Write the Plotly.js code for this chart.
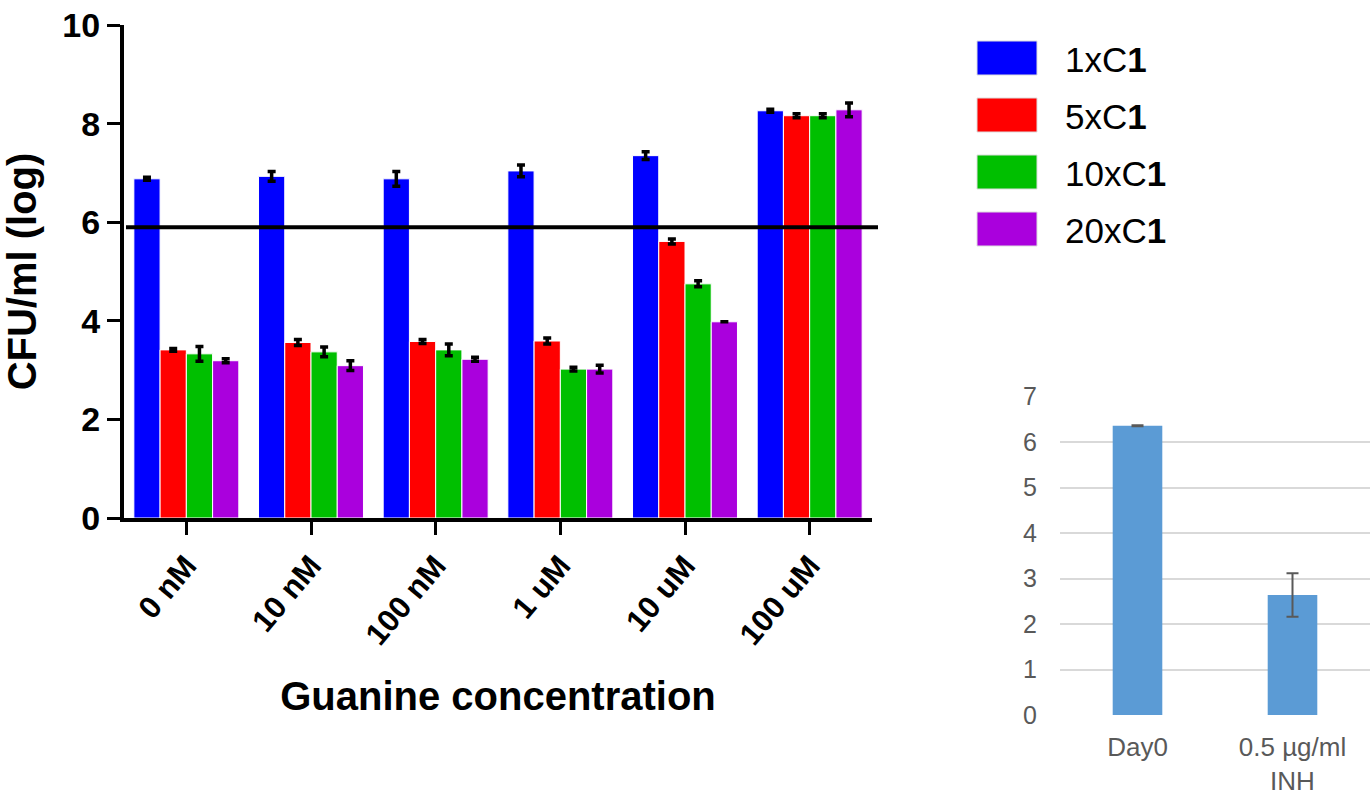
<!DOCTYPE html>
<html>
<head>
<meta charset="utf-8">
<script src="https://cdn.plot.ly/plotly-3.0.1.min.js"></script>
<style>
html,body{margin:0;padding:0;background:#fff;}
#chart{width:1372px;height:795px;}
</style>
</head>
<body>
<div id="chart"></div>
<script>
// ---- Data: main chart ----
const categories = ['0 nM', '10 nM', '100 nM', '1 uM', '10 uM', '100 uM'];
const seriesNames = ['1xC<b>1</b>', '5xC<b>1</b>', '10xC<b>1</b>', '20xC<b>1</b>'];
const c1x1 = [6.88, 6.93, 6.88, 7.04, 7.35, 8.26];
const c1x1Err = [0.03, 0.10, 0.15, 0.12, 0.08, 0.03];
const c1x5 = [3.41, 3.56, 3.58, 3.59, 5.61, 8.16];
const c1x5Err = [0.03, 0.06, 0.04, 0.06, 0.05, 0.04];
const c1x10 = [3.33, 3.37, 3.41, 3.02, 4.75, 8.16];
const c1x10Err = [0.15, 0.10, 0.12, 0.04, 0.06, 0.04];
const c1x20 = [3.19, 3.09, 3.22, 3.02, 3.98, 8.28];
const c1x20Err = [0.04, 0.10, 0.04, 0.08, 0, 0.14];
const thresholdValue = 5.9;
const yTicks = [0, 2, 4, 6, 8, 10];

// ---- Data: inset chart ----
const insetCategories = ['Day0', '0.5 µg/ml<br>INH'];
const insetValues = [6.36, 2.64];
const insetErr = [0.01, 0.48];

// ---- Styles ----
const colors = ['#0000FF', '#FF0000', '#00BF00', '#AA00DD'];
const W = 1372, H = 795;
const px = x => x / W;
const py = y => 1 - y / H;
const font = 'Liberation Sans, Arial, sans-serif';

const seriesVals = [c1x1, c1x5, c1x10, c1x20];
const seriesErr = [c1x1Err, c1x5Err, c1x10Err, c1x20Err];

const traces = seriesVals.map((vals, i) => ({
  type: 'bar',
  x: categories,
  y: vals,
  name: seriesNames[i],
  xaxis: 'x', yaxis: 'y',
  marker: {color: colors[i], line: {color: '#ffffff', width: 1}},
  error_y: {type: 'data', array: seriesErr[i], visible: true, color: '#000', thickness: 3.5, width: 4},
  showlegend: false
}));

traces.push({
  type: 'bar',
  x: insetCategories,
  y: insetValues,
  xaxis: 'x2', yaxis: 'y2',
  marker: {color: '#5B9BD5'},
  error_y: {type: 'data', array: insetErr, visible: true, color: '#595959', thickness: 2, width: 6},
  showlegend: false,
  width: 0.32
});

// legend drawn manually (large swatches)
const legendCenters = [58, 115, 172, 229];
const shapes = [
  {type: 'line', xref: 'paper', yref: 'y', x0: px(126), x1: px(878), y0: thresholdValue, y1: thresholdValue,
   line: {color: '#000', width: 4}}
];
const annotations = [];
legendCenters.forEach((cy, i) => {
  shapes.push({type: 'rect', xref: 'paper', yref: 'paper', x0: px(977), x1: px(1037), y0: py(cy + 17), y1: py(cy - 17),
    fillcolor: colors[i], line: {color: '#ddd', width: 1}});
  annotations.push({xref: 'paper', yref: 'paper', x: px(1063), y: py(cy + 2), xanchor: 'left', yanchor: 'middle',
    text: seriesNames[i], showarrow: false, font: {family: font, size: 35, color: '#000'}});
});

const layout = {
  width: W, height: H,
  margin: {l: 0, r: 0, t: 0, b: 0},
  paper_bgcolor: '#fff', plot_bgcolor: 'rgba(0,0,0,0)',
  barmode: 'group', bargap: 0.158, bargroupgap: 0,
  showlegend: false,
  font: {family: font, color: '#000'},
  xaxis: {
    domain: [px(124), px(872)], anchor: 'y',
    type: 'category', range: [-0.5, 5.5],
    showline: true, linecolor: '#000', linewidth: 4,
    ticks: 'outside', ticklen: 13, tickwidth: 3, tickcolor: '#000',
    tickangle: -50,
    tickfont: {family: font, size: 31, weight: 'bold', color: '#000'},
    title: {text: 'Guanine concentration', font: {family: font, size: 40, weight: 'bold', color: '#000'}, standoff: 32},
    showgrid: false, zeroline: false, fixedrange: true
  },
  yaxis: {
    domain: [py(518), py(25)], anchor: 'x',
    range: [0, 10], tickvals: yTicks, ticktext: yTicks.map(String),
    showline: true, linecolor: '#000', linewidth: 4,
    ticks: 'outside', ticklen: 13, tickwidth: 3, tickcolor: '#000',
    tickfont: {family: font, size: 34, weight: 'bold', color: '#000'},
    title: {text: 'CFU/ml (log)', font: {family: font, size: 40, weight: 'bold', color: '#000'}, standoff: 16},
    showgrid: false, zeroline: false, fixedrange: true
  },
  xaxis2: {
    domain: [px(1060), px(1370)], anchor: 'y2',
    type: 'category', range: [-0.5, 1.5],
    showline: false, ticks: '', showgrid: false, zeroline: false,
    tickfont: {family: font, size: 26, color: '#595959'},
    ticklabelstandoff: 14, fixedrange: true
  },
  yaxis2: {
    domain: [py(715), py(396.7)], anchor: 'x2',
    range: [0, 7], dtick: 1, tick0: 0,
    showgrid: true, gridcolor: '#D9D9D9', gridwidth: 2,
    showline: false, ticks: '', zeroline: false,
    tickfont: {family: font, size: 25, color: '#595959'},
    ticklabelstandoff: 22, fixedrange: true
  },
  shapes: shapes,
  annotations: annotations
};

Plotly.newPlot('chart', traces, layout, {displayModeBar: false, staticPlot: true});
</script>
</body>
</html>
